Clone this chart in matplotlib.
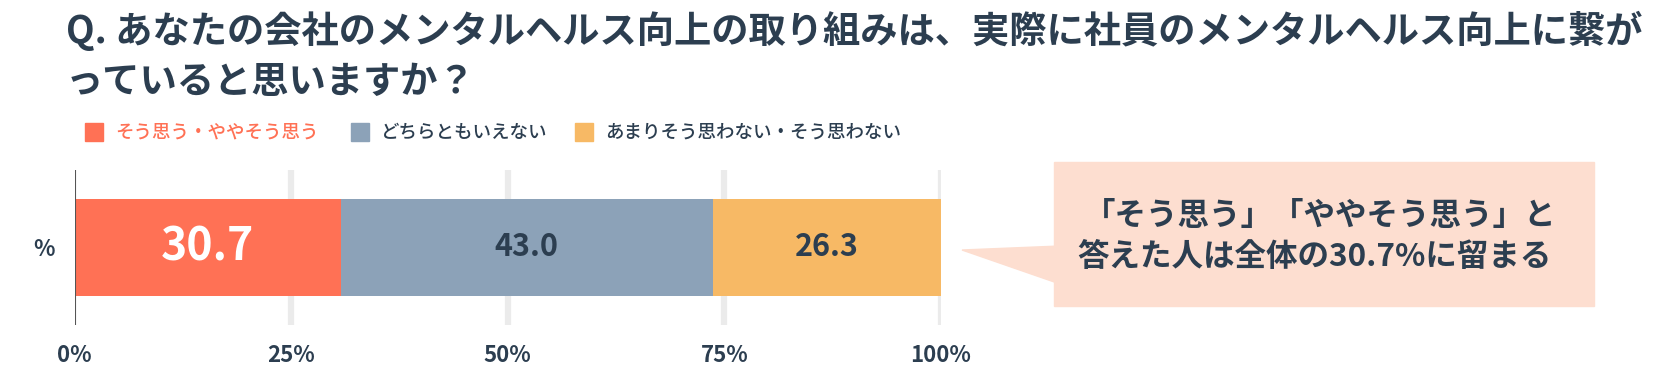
import numpy as np
import matplotlib.pyplot as plt
from matplotlib.patches import Polygon, Rectangle

plt.rcParams['font.family'] = ['Noto Sans CJK JP', 'DejaVu Sans']

categories = ["そう思う・ややそう思う", "どちらともいえない", "あまりそう思わない・そう思わない"]
values = [30.7, 43.0, 26.3]
colors = ["#FF7155", "#8CA2B8", "#F7B965"]
label_colors = ["white", "#2C3E50", "#2C3E50"]
label_sizes = [32, 22, 22]
row_label = "%"
xticks = [0, 25, 50, 75, 100]
xtick_labels = ["0%", "25%", "50%", "75%", "100%"]

dark = "#2C3E50"
W, H = 1670, 373
fig = plt.figure(figsize=(W / 100, H / 100), dpi=100)

def fx(px):
    return px / W

def fy(py):
    return 1 - py / H

# main axes
ax = fig.add_axes([fx(74.5), fy(325), fx(941) - fx(74.5), fy(170) - fy(325)])
ax.set_xlim(0, 100)
ax.set_ylim(-0.5, 0.5)

for t in xticks[1:]:
    ax.axvline(t, color="#EBEBEB", lw=4.5, zorder=0)
ax.axvline(0, color="#555555", lw=1.5, zorder=3)

left = 0
for v, c, lc, ls in zip(values, colors, label_colors, label_sizes):
    ax.barh(0, v, left=left, height=0.63, color=c, zorder=2)
    ax.text(left + v / 2, 0, f"{v:.1f}", ha="center", va="center",
            color=lc, fontsize=ls, fontweight="bold", zorder=4)
    left += v

ax.set_xticks(xticks)
ax.set_xticklabels(xtick_labels, fontsize=16, fontweight="bold", color=dark)
ax.set_yticks([0])
ax.set_yticklabels([row_label], fontsize=16, fontweight="bold", color=dark)
ax.tick_params(axis="both", length=0)
ax.tick_params(axis="x", pad=14)
ax.tick_params(axis="y", pad=14)
for s in ax.spines.values():
    s.set_visible(False)

# title
fig.text(fx(66), fy(31), "Q. あなたの会社のメンタルヘルス向上の取り組みは、実際に社員のメンタルヘルス向上に繋が",
         fontsize=26.85, fontweight="bold", color=dark, va="center", ha="left")
fig.text(fx(66), fy(81), "っていると思いますか？",
         fontsize=26.85, fontweight="bold", color=dark, va="center", ha="left")

# legend
leg_x = [85, 351, 575]
for x0, c, lab, i in zip(leg_x, colors, categories, range(3)):
    fig.patches.append(Rectangle((fx(x0), fy(141)), fx(18), fy(123) - fy(141),
                                 transform=fig.transFigure, color=c))
    fig.text(fx(x0 + 30), fy(132), lab, fontsize=13.3, fontweight="medium",
             color=colors[0] if i == 0 else dark, va="center", ha="left")

# callout
bg = "#FDDED0"
fig.patches.append(Polygon([(fx(962), fy(250)), (fx(1060), fy(246)), (fx(1060), fy(284))],
                           closed=True, transform=fig.transFigure, color=bg))
fig.patches.append(Rectangle((fx(1054), fy(306)), fx(1594) - fx(1054), fy(162) - fy(306),
                             transform=fig.transFigure, color=bg))
fig.text(fx(1320), fy(216), "「そう思う」「ややそう思う」と", fontsize=22.7, fontweight="bold",
         color=dark, ha="center", va="center")
fig.text(fx(1314), fy(257), "答えた人は全体の30.7%に留まる", fontsize=22.7, fontweight="bold",
         color=dark, ha="center", va="center")

fig.savefig("out.png", dpi=100)
